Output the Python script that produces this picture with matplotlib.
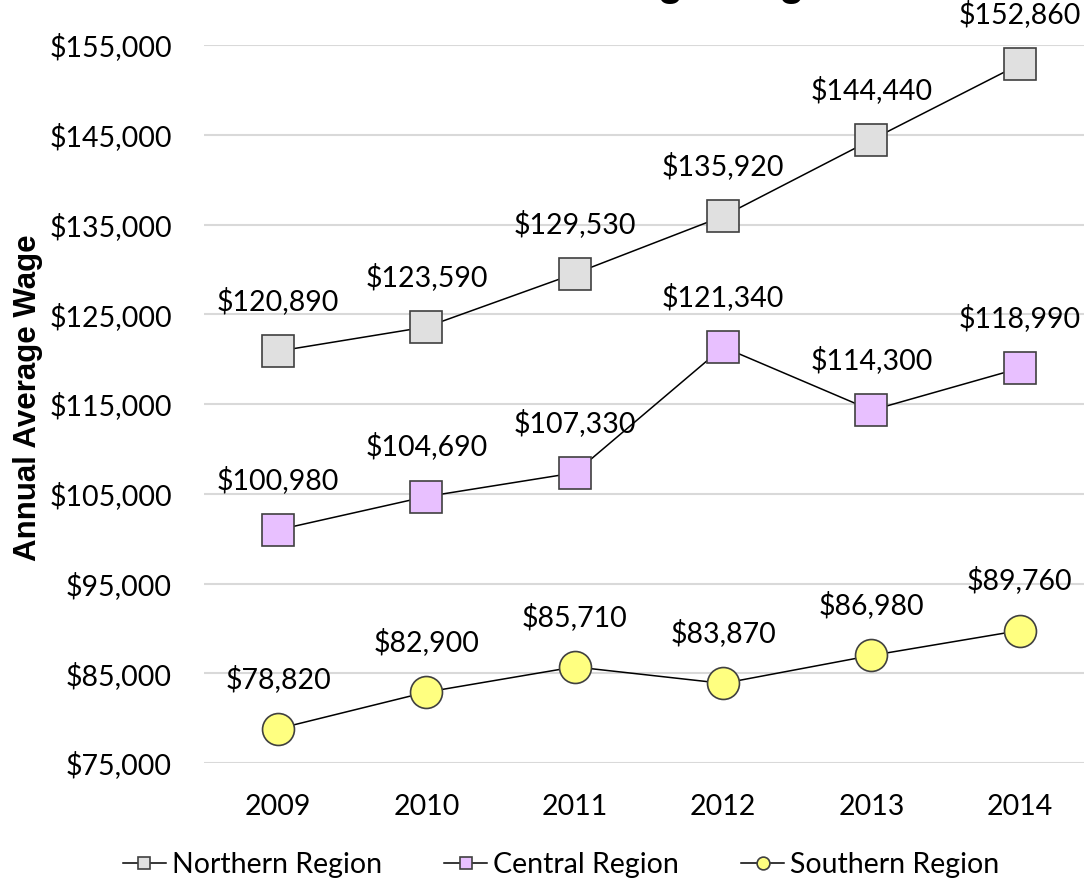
import matplotlib
matplotlib.use("Agg")
import matplotlib.pyplot as plt
from matplotlib.ticker import FuncFormatter

# chart data
years = ["2009", "2010", "2011", "2012", "2013", "2014"]
northern = [120890, 123590, 129530, 135920, 144440, 152860]
central = [100980, 104690, 107330, 121340, 114300, 118990]
southern = [78820, 82900, 85710, 83870, 86980, 89760]
y_ticks = [75000, 85000, 95000, 105000, 115000, 125000, 135000, 145000, 155000]

label_font = "Lato"
W, H = 1084, 885

fig = plt.figure(figsize=(W / 100, H / 100), dpi=100)
ax = fig.add_axes([204 / W, 122 / H, 890 / W, 718 / H])

x = list(range(len(years)))
series = [
    ("Northern Region", northern, "s", "#E0E0E0"),
    ("Central Region", central, "s", "#E8C0FF"),
    ("Southern Region", southern, "o", "#FFFF80"),
]

for name, vals, mk, col in series:
    ax.plot(x, vals, color="black", lw=1.1, marker=mk, markersize=23,
            markerfacecolor=col, markeredgecolor="#404040", markeredgewidth=1.2,
            label=name, zorder=3)
    for xi, v in zip(x, vals):
        ax.annotate(f"${v:,.0f}", (xi, v), textcoords="offset points", xytext=(0, 36),
                    ha="center", va="center", fontsize=20.5, family=label_font, zorder=4)

ax.set_xlim(-0.5, 5.5)
ax.set_ylim(75000, 155000)
ax.set_yticks(y_ticks)
ax.yaxis.set_major_formatter(FuncFormatter(lambda v, p: f"${v:,.0f}"))
ax.set_xticks(x)
ax.set_xticklabels(years)
ax.grid(axis="y", color="#D9D9D9", lw=1.5, zorder=0)
ax.set_axisbelow(True)
for s in ax.spines.values():
    s.set_visible(False)
ax.tick_params(axis="both", length=0, labelsize=20.5)
ax.tick_params(axis="x", pad=22)
ax.tick_params(axis="y", pad=23)
for t in ax.get_xticklabels() + ax.get_yticklabels():
    t.set_family(label_font)

fig.text(28 / W, 1 - 398 / H, "Annual Average Wage", rotation=90, ha="center", va="center",
         fontsize=22.5, fontweight="bold", family="Liberation Sans")

# title sits mostly above the visible area, as in the source
fig.text(610 / W, 1 + 5 / H, "Annual Average Wage", ha="center", va="baseline",
         fontsize=30, fontweight="bold", family="Liberation Sans")

handles, labels = ax.get_legend_handles_labels()
leg = fig.legend(handles, labels, loc="center", bbox_to_anchor=(561 / W, 1 - 865 / H), ncol=3,
                 frameon=False, prop={"family": label_font, "size": 20.5}, handlelength=1.5,
                 columnspacing=2.2, handletextpad=0.2, markerscale=0.4)

fig.savefig("out.png", dpi=100)
